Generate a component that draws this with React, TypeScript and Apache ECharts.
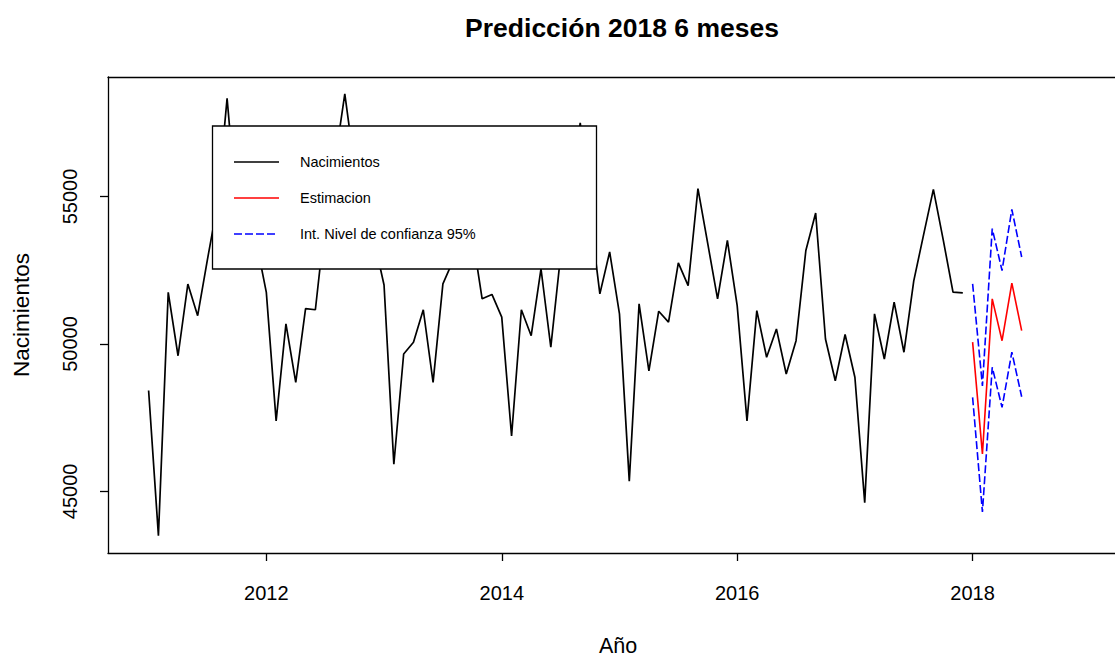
import React, { useEffect, useRef } from "react";
import * as echarts from "echarts";

// Monthly births, Jan 2011 .. Dec 2017
const startYear = 2011;
const births2011 = [48420, 43500, 51750, 49600, 52030, 50960, 52870, 54700, 58330, 54500, 54000, 53430];
const births2012 = [51750, 47390, 50680, 48700, 51200, 51160, 54180, 56200, 58480, 56000, 54800, 53500];
const births2013 = [52000, 45920, 49660, 50060, 51160, 48700, 52040, 52800, 56800, 53700, 51530, 51680];
const births2014 = [50910, 46880, 51160, 50280, 52550, 49890, 53000, 55300, 57500, 54400, 51700, 53120];
const births2015 = [51020, 45350, 51360, 49090, 51110, 50740, 52750, 51980, 55270, 53400, 51530, 53510];
const births2016 = [51300, 47390, 51130, 49550, 50510, 48980, 50110, 53170, 54440, 50170, 48750, 50320];
const births2017 = [48870, 44620, 51020, 49490, 51420, 49720, 52140, 53700, 55240, 53540, 51760, 51730];

// Forecast Jan 2018 .. Jun 2018
const forecastStart = 2018;
const estimacion = [50060, 46270, 51530, 50110, 52060, 50450];
const upper95 = [52040, 48580, 53910, 52490, 54560, 52950];
const lower95 = [48190, 44300, 49210, 47850, 49720, 48210];

const xTicks = [2012, 2014, 2016, 2018];
const yTicks = [45000, 50000, 55000];

const legendLabels = ["Nacimientos", "Estimacion", "Int. Nivel de confianza 95%"];

const FONT = "'Liberation Sans', Arial, Helvetica, sans-serif";

export default function App() {
  const ref = useRef<HTMLDivElement>(null);

  useEffect(() => {
    if (!ref.current) return;
    const chart = echarts.init(ref.current, undefined, { renderer: "svg" });

    const births = [
      ...births2011, ...births2012, ...births2013, ...births2014,
      ...births2015, ...births2016, ...births2017,
    ];
    const hist = births.map((v, i) => [startYear + i / 12, v]);
    const toSeries = (arr: number[]) => arr.map((v, i) => [forecastStart + i / 12, v]);

    const axisLineStyle = { color: "#000", width: 1.3 };

    chart.setOption({
      animation: false,
      backgroundColor: "#fff",
      textStyle: { fontFamily: FONT },
      title: {
        text: "Predicción 2018 6 meses",
        left: 617,
        textAlign: "center",
        top: 9,
        textStyle: { fontSize: 26.5, fontWeight: "bold", color: "#000", fontFamily: FONT },
      },
      grid: { left: 108, right: 0, top: 77, bottom: 105, containLabel: false, outerBoundsMode: "none" },
      xAxis: [
        {
          type: "value",
          min: 2010.655,
          max: 2019.32,
          splitLine: { show: false },
          axisLine: { show: true, lineStyle: axisLineStyle },
          axisTick: { show: true, customValues: xTicks, length: 8, inside: false, lineStyle: axisLineStyle },
          axisLabel: {
            customValues: xTicks,
            formatter: (v: number) => String(Math.round(v)),
            fontSize: 20,
            color: "#000",
            margin: 30,
            fontFamily: FONT,
          },
          name: "Año",
          nameLocation: "middle",
          nameGap: 82,
          nameTextStyle: { fontSize: 21.5, color: "#000", fontFamily: FONT },
        },
        {
          type: "value",
          position: "top",
          min: 2010.655,
          max: 2019.32,
          splitLine: { show: false },
          axisLine: { show: true, onZero: false, lineStyle: axisLineStyle },
          axisTick: { show: false },
          axisLabel: { show: false },
        },
      ],
      yAxis: {
        type: "value",
        min: 42911,
        max: 59053,
        splitLine: { show: false },
        axisLine: { show: true, lineStyle: axisLineStyle },
        axisTick: { show: true, customValues: yTicks, length: 8, lineStyle: axisLineStyle },
        axisLabel: {
          customValues: yTicks,
          formatter: (v: number) => String(Math.round(v)),
          rotate: 90,
          fontSize: 20,
          color: "#000",
          margin: 28,
          fontFamily: FONT,
        },
        name: "Nacimientos",
        nameLocation: "middle",
        nameGap: 75,
        nameRotate: 90,
        nameTextStyle: { fontSize: 22.5, color: "#000", fontFamily: FONT },
      },
      series: [
        {
          name: "Nacimientos",
          type: "line",
          data: hist,
          showSymbol: false,
          symbol: "none",
          lineStyle: { color: "#000", width: 1.7 },
        },
        {
          name: "Estimacion",
          type: "line",
          data: toSeries(estimacion),
          showSymbol: false,
          symbol: "none",
          lineStyle: { color: "#ff0000", width: 1.6 },
        },
        {
          name: "Superior",
          type: "line",
          data: toSeries(upper95),
          showSymbol: false,
          symbol: "none",
          lineStyle: { color: "#0000ff", width: 1.6, type: [8, 3] },
        },
        {
          name: "Inferior",
          type: "line",
          data: toSeries(lower95),
          showSymbol: false,
          symbol: "none",
          lineStyle: { color: "#0000ff", width: 1.6, type: [8, 3] },
        },
      ],
      graphic: [
        {
          type: "group",
          z: 100,
          children: [
            {
              type: "rect",
              z: 100,
              shape: { x: 212.5, y: 126, width: 384, height: 143 },
              style: { fill: "#fff", stroke: "#000", lineWidth: 1.3 },
            },
            {
              type: "line",
              z: 101,
              shape: { x1: 234, y1: 162, x2: 279, y2: 162 },
              style: { stroke: "#000", lineWidth: 1.3 },
            },
            {
              type: "line",
              z: 101,
              shape: { x1: 234, y1: 198, x2: 279, y2: 198 },
              style: { stroke: "#ff0000", lineWidth: 1.3 },
            },
            {
              type: "line",
              z: 101,
              shape: { x1: 234, y1: 234, x2: 275, y2: 234 },
              style: { stroke: "#0000ff", lineWidth: 1.3, lineDash: [8, 3] },
            },
            ...legendLabels.map((t, i) => ({
              type: "text",
              z: 101,
              x: 300,
              y: 162 + i * 36,
              style: {
                text: t,
                fill: "#000",
                font: `14.5px ${FONT}`,
                textVerticalAlign: "middle",
                verticalAlign: "middle",
              },
            })),
          ],
        },
      ],
    });

    return () => chart.dispose();
  }, []);

  return (
    <div
      style={{
        position: "fixed",
        left: 0,
        top: 0,
        width: 1115,
        height: 658,
        overflow: "hidden",
        background: "#fff",
      }}
    >
      <div ref={ref} style={{ width: 1128, height: 658 }} />
    </div>
  );
}
